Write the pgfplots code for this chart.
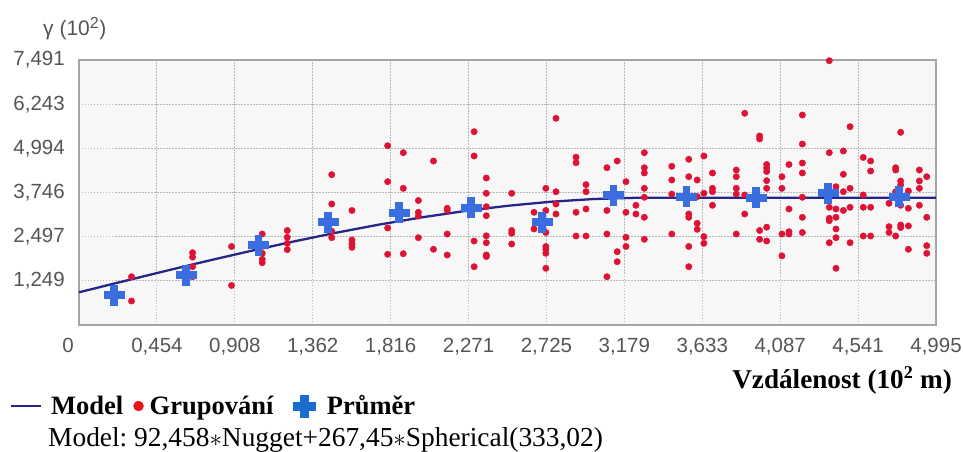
\documentclass[border=0pt]{standalone}
\usepackage{fontspec}
\setmainfont{Liberation Serif}
\newfontfamily\sansf{Liberation Sans}
\usepackage{pgfplots}
\pgfplotsset{compat=1.18}

\definecolor{bggray}{RGB}{247,247,247}
\definecolor{framegray}{RGB}{165,165,165}
\definecolor{gridgray}{RGB}{185,185,185}
\definecolor{tickgray}{RGB}{85,85,85}
\definecolor{modelnavy}{RGB}{38,38,135}
\definecolor{ptred}{RGB}{222,18,52}
\definecolor{avgblue}{RGB}{58,110,224}
\definecolor{legred}{RGB}{235,20,28}
\definecolor{legblue}{RGB}{25,110,205}

\begin{document}
\frenchspacing
\begin{tikzpicture}[x=1pt,y=1pt]
\useasboundingbox (-79,-127) rectangle (884,325);
\begin{axis}[
    at={(0,0)}, anchor=south west,
    scale only axis, width=857pt, height=265pt,
    xmin=0, xmax=4.995, ymin=0, ymax=7.491,
    xtick={0,0.4541,0.9082,1.3623,1.8164,2.2705,2.7245,3.1786,3.6327,4.0868,4.5409,4.995},
    xticklabels={,{0,454},{0,908},{1,362},{1,816},{2,271},{2,725},{3,179},{3,633},{4,087},{4,541},{4,995}},
    ytick={1.2485,2.497,3.7455,4.994,6.2425,7.491},
    yticklabels={{1,249},{2,497},{3,746},{4,994},{6,243},{7,491}},
    major tick length=0pt,
    grid=major,
    grid style={gridgray, line width=1pt, dash pattern=on 1.5pt off 1.5pt},
    axis line style={framegray, line width=1.5pt},
    axis background/.style={fill=bggray},
    ticklabel style={font=\sansf\fontsize{20.5}{24}\selectfont, text=tickgray},
    xticklabel style={anchor=north, inner sep=0pt, yshift=-13pt},
    yticklabel style={anchor=east, inner sep=0pt, xshift=-14pt},
    clip=false,
    legend style={at={(axis description cs:-0.0805,-0.3057)}, anchor=west,
        draw=none, fill=none, inner sep=0pt, outer sep=0pt,
        font=\bfseries\fontsize{26.5}{30}\selectfont,
        nodes={inner sep=0pt, outer sep=0pt},
        /tikz/every odd column/.style={column sep=0pt},
        /tikz/every even column/.style={column sep=0pt}},
    legend columns=-1,
]
% Grupovani (binned semivariance)
\addplot[ptred, only marks, mark=*, mark size=3.2pt, mark options={draw=none, fill=ptred}, forget plot]
coordinates {
(0.306,1.365) (0.306,0.678)
(0.662,2.044) (0.662,1.920) (0.662,1.648) (0.662,1.365)
(0.889,2.219) (0.889,1.117)
(1.068,2.572) (1.068,2.027) (1.068,1.857) (1.068,1.761)
(1.214,2.671) (1.214,2.479) (1.214,2.309) (1.214,2.130)
(1.473,4.249) (1.473,3.420) (1.473,2.650) (1.473,2.470)
(1.591,3.237) (1.591,2.403) (1.591,2.290) (1.591,2.196)
(1.799,5.068) (1.799,4.051) (1.799,2.744) (1.799,1.999)
(1.890,4.871) (1.890,3.864) (1.890,2.015)
(1.978,3.519) (1.978,3.186) (1.978,3.081) (1.978,2.468)
(2.066,4.636) (2.066,2.140)
(2.146,3.300) (2.146,3.240) (2.146,2.572) (2.146,1.979)
(2.303,5.464) (2.303,4.777) (2.303,2.374) (2.303,1.648)
(2.374,4.155) (2.374,3.723) (2.374,3.344) (2.374,3.090) (2.374,2.521) (2.374,2.326) (2.374,1.979) (2.374,1.936)
(2.522,3.723) (2.522,2.671) (2.522,2.592) (2.522,2.290)
(2.652,3.186) (2.652,2.714)
(2.721,3.864) (2.721,3.237) (2.721,2.615) (2.721,2.219) (2.721,2.140) (2.721,2.027) (2.721,1.603)
(2.780,5.843) (2.780,3.768) (2.780,3.420) (2.780,3.138)
(2.897,4.744) (2.897,4.587) (2.897,3.186) (2.897,2.516)
(2.955,3.967) (2.955,3.768) (2.955,3.279) (2.955,2.516)
(3.077,4.446) (3.077,3.237) (3.077,2.572) (3.077,1.365)
(3.137,4.636) (3.137,2.072) (3.137,1.789)
(3.188,4.051) (3.188,3.186) (3.188,2.479) (3.188,2.219)
(3.246,3.384) (3.246,3.138)
(3.295,4.871) (3.295,4.446) (3.295,4.297) (3.295,3.864) (3.295,3.610) (3.295,3.044) (3.295,2.423)
(3.455,4.486) (3.455,4.099) (3.455,3.700) (3.455,2.572)
(3.554,4.684) (3.554,4.192) (3.554,3.138) (3.554,3.044) (3.554,2.219) (3.554,1.648)
(3.603,4.099) (3.603,3.627) (3.603,2.875) (3.603,2.705)
(3.642,4.777) (3.642,3.723) (3.642,2.498) (3.642,2.309)
(3.692,4.297) (3.692,3.864) (3.692,3.768) (3.692,3.384)
(3.831,4.381) (3.831,4.192) (3.831,3.864) (3.831,3.700) (3.831,2.572)
(3.880,5.984) (3.880,3.675) (3.880,3.138)
(3.967,5.343) (3.967,5.258) (3.967,2.671) (3.967,2.423)
(4.008,4.537) (4.008,4.437) (4.008,4.339) (4.008,4.080) (4.008,3.864) (4.008,2.765) (4.008,2.374)
(4.097,4.192) (4.097,3.864) (4.097,2.572) (4.097,1.955)
(4.138,4.537) (4.138,3.279) (4.138,2.637) (4.138,2.572)
(4.216,5.936) (4.216,5.116) (4.216,4.579) (4.216,4.297) (4.216,3.610) (4.216,3.044) (4.216,2.615)
(4.373,7.471) (4.373,4.871) (4.373,3.327) (4.373,3.016) (4.373,2.948) (4.373,2.326)
(4.412,3.909) (4.412,3.279) (4.412,3.044) (4.412,2.714) (4.412,2.468) (4.412,1.603)
(4.455,4.919) (4.455,4.260) (4.455,3.768) (4.455,3.237)
(4.494,5.606) (4.494,3.864) (4.494,3.327) (4.494,2.326)
(4.571,4.735) (4.571,3.675) (4.571,3.327) (4.571,2.516)
(4.614,4.636) (4.614,4.352) (4.614,3.327) (4.614,2.516)
(4.721,3.440) (4.721,2.779) (4.721,2.615)
(4.760,4.446) (4.760,4.381) (4.760,3.768) (4.760,2.516)
(4.789,5.447) (4.789,4.071) (4.789,3.958) (4.789,3.384) (4.789,2.827) (4.789,2.756)
(4.834,3.790) (4.834,3.299) (4.834,2.800) (4.834,2.140)
(4.898,4.381) (4.898,4.071) (4.898,3.864) (4.898,3.384)
(4.941,4.192) (4.941,3.044) (4.941,2.242) (4.941,2.027)
};
% Prumer (averages)
\addplot[avgblue, only marks, mark=+, mark size=10.5pt, mark options={avgblue, line width=7.5pt}, forget plot]
coordinates {
(0.204,0.848) (0.624,1.413) (1.045,2.260) (1.452,2.910) (1.866,3.170) (2.285,3.310)
(2.700,2.910) (3.114,3.670) (3.540,3.620) (3.946,3.590) (4.366,3.730) (4.780,3.620)
};
% Model: 92,458*Nugget + 267,45*Spherical(333,02)
\addplot[modelnavy, line width=2.3pt, forget plot]
coordinates {
(0,0.9246) (0.25,1.2252) (0.5,1.5224) (0.75,1.8128) (1,2.0930) (1.25,2.3597)
(1.5,2.6094) (1.75,2.8387) (2,3.0442) (2.25,3.2227) (2.5,3.3705) (2.75,3.4844)
(3,3.5610) (3.25,3.5968) (3.3302,3.5991) (4.995,3.5991)
};

\addlegendimage{legend image code/.code={
    \draw[modelnavy, line width=2pt] (0pt,0pt) -- (30pt,0pt);
    \path (40pt,0pt);}}
\addlegendentry{Model}
\addlegendimage{legend image code/.code={
    \fill[legred] (15pt,0pt) circle (5pt);
    \path (0pt,0pt) (26pt,0pt);}}
\addlegendentry{Grupování}
\addlegendimage{legend image code/.code={
    \fill[legblue] (20pt,-4pt) rectangle (42pt,4pt);
    \fill[legblue] (27pt,-11pt) rectangle (35pt,11pt);
    \path (0pt,0pt) (53pt,0pt);}}
\addlegendentry{Průměr}
\end{axis}

\node[anchor=north, inner sep=0pt, font=\sansf\fontsize{20.5}{24}\selectfont, text=tickgray] at (-11,-13) {0};
\node[anchor=base west, inner sep=0pt, font=\sansf\fontsize{21}{24}\selectfont, text=tickgray] at (-36,289) {γ (10\textsuperscript{\fontsize{16}{18}\selectfont 2})};
\node[anchor=base east, inner sep=0pt, font=\bfseries\fontsize{27.2}{31}\selectfont] at (873,-63) {Vzdálenost (10\textsuperscript{\fontsize{18}{20}\selectfont 2} m)};
\node[anchor=base west, inner sep=0pt, font=\fontsize{27.4}{31}\selectfont] at (-31,-121) {Model:\ 92,458$\ast$Nugget+267,45$\ast$Spherical(333,02)};
\end{tikzpicture}
\end{document}
